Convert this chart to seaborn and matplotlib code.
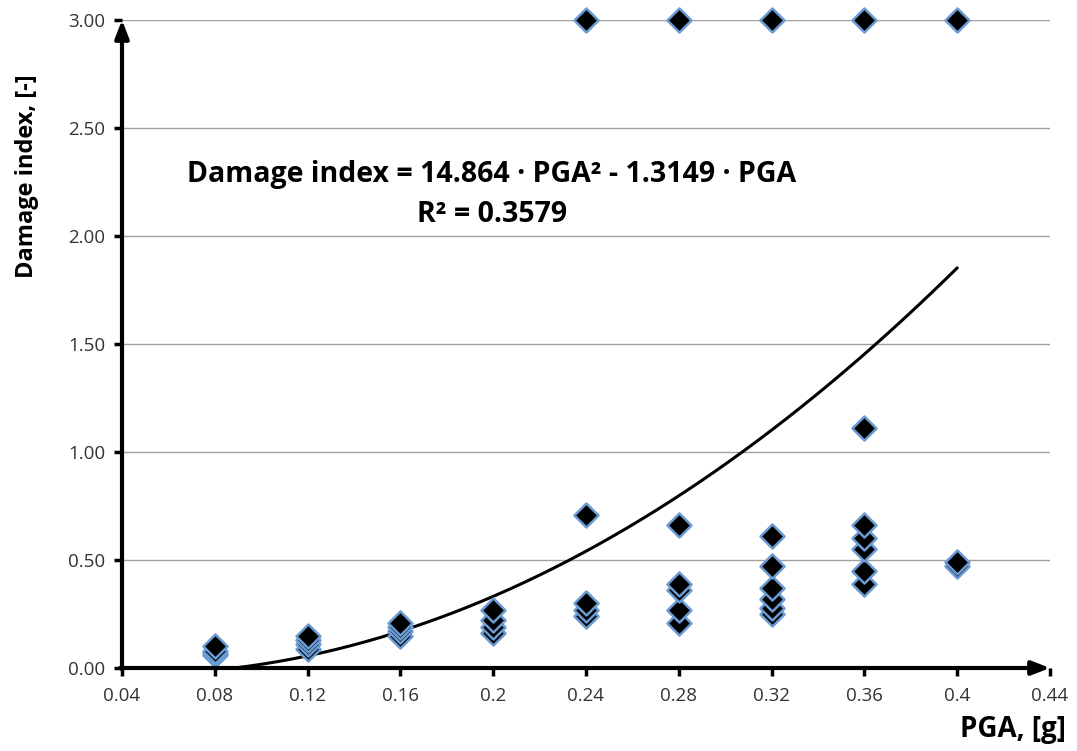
import numpy as np
import pandas as pd
import matplotlib
matplotlib.use("Agg")
import matplotlib.pyplot as plt
import seaborn as sns

pga_levels = [0.08, 0.12, 0.16, 0.20, 0.24, 0.28, 0.32, 0.36, 0.40]
di_008 = [0.10, 0.08, 0.07, 0.06]
di_012 = [0.15, 0.13, 0.11, 0.09]
di_016 = [0.21, 0.19, 0.17, 0.15]
di_020 = [0.27, 0.22, 0.19, 0.16]
di_024 = [3.00, 0.71, 0.30, 0.27, 0.24]
di_028 = [3.00, 0.66, 0.39, 0.36, 0.27, 0.21]
di_032 = [3.00, 0.61, 0.47, 0.37, 0.32, 0.28, 0.25]
di_036 = [3.00, 1.11, 0.66, 0.60, 0.55, 0.45, 0.39]
di_040 = [3.00, 0.49, 0.47]
groups = [di_008, di_012, di_016, di_020, di_024, di_028, di_032, di_036, di_040]

coef_a = 14.864
coef_b = -1.3149
r2 = 0.3579

x_ticks = [0.04, 0.08, 0.12, 0.16, 0.2, 0.24, 0.28, 0.32, 0.36, 0.4, 0.44]
x_tick_labels = ["0.04", "0.08", "0.12", "0.16", "0.2", "0.24", "0.28", "0.32", "0.36", "0.4", "0.44"]
y_ticks = [0.0, 0.5, 1.0, 1.5, 2.0, 2.5, 3.0]

rows = []
for p, g in zip(pga_levels, groups):
    for v in sorted(g):
        rows.append({"PGA": p, "DI": v})
df = pd.DataFrame(rows)

sns.set_theme(style="white")
plt.rcParams['font.family'] = ['Open Sans', 'DejaVu Sans']

fig = plt.figure(figsize=(10.77, 7.51), dpi=100)
ax = fig.add_axes([122/1077, 1 - 668/751, (1050-122)/1077, (668-20)/751])

for yv in y_ticks[1:]:
    ax.axhline(yv, color="#a0a0a0", lw=1.0, zorder=0)

sns.scatterplot(data=df, x="PGA", y="DI", marker="D", s=150, color="black",
                edgecolor="#6a9bd3", linewidth=1.8, ax=ax, zorder=3, clip_on=False)

x0 = -coef_b / coef_a
xs = np.linspace(x0, 0.40, 200)
ys = coef_a * xs**2 + coef_b * xs
ax.plot(xs, ys, color="black", lw=2.2, zorder=2)

ax.set_xlim(0.04, 0.44)
ax.set_ylim(0, 3.0)
ax.set_xticks(x_ticks)
ax.set_xticklabels(x_tick_labels)
ax.set_yticks(y_ticks)
ax.set_yticklabels([f"{v:.2f}" for v in y_ticks])
ax.tick_params(axis="both", which="major", direction="out", length=6, width=2.5,
               color="black", labelsize=13.5, labelcolor="#333333", left=True, bottom=True)
ax.tick_params(axis="x", pad=8)
ax.tick_params(axis="y", pad=6)

for sp in ax.spines.values():
    sp.set_visible(False)

ax.annotate("", xy=(0, 1.0), xytext=(0, -0.002), xycoords="axes fraction",
            arrowprops=dict(arrowstyle="-|>,head_length=0.9,head_width=0.35", color="black",
                            lw=3, shrinkA=0, shrinkB=0), annotation_clip=False)
ax.annotate("", xy=(1.0, 0), xytext=(-0.002, 0), xycoords="axes fraction",
            arrowprops=dict(arrowstyle="-|>,head_length=0.9,head_width=0.35", color="black",
                            lw=3, shrinkA=0, shrinkB=0), annotation_clip=False)

ax.set_xlabel("")
ax.set_ylabel("")
fig.text(1066/1077, 1 - 737/751, "PGA, [g]", ha="right", va="baseline",
         fontsize=20, fontweight="bold", color="black")
fig.text(27/1077, 1 - 176/751, "Damage index, [-]", ha="center", va="center",
         rotation=90, fontsize=17, fontweight="bold", color="black")

ax.text(0.1993, 2.25, f"Damage index = {coef_a} · PGA² - {abs(coef_b)} · PGA",
        ha="center", va="baseline", fontsize=20.5, fontweight="bold", color="black")
ax.text(0.1993, 2.065, f"R² = {r2}", ha="center", va="baseline", fontsize=20.5,
        fontweight="bold", color="black")

fig.savefig("out.png", dpi=100)
